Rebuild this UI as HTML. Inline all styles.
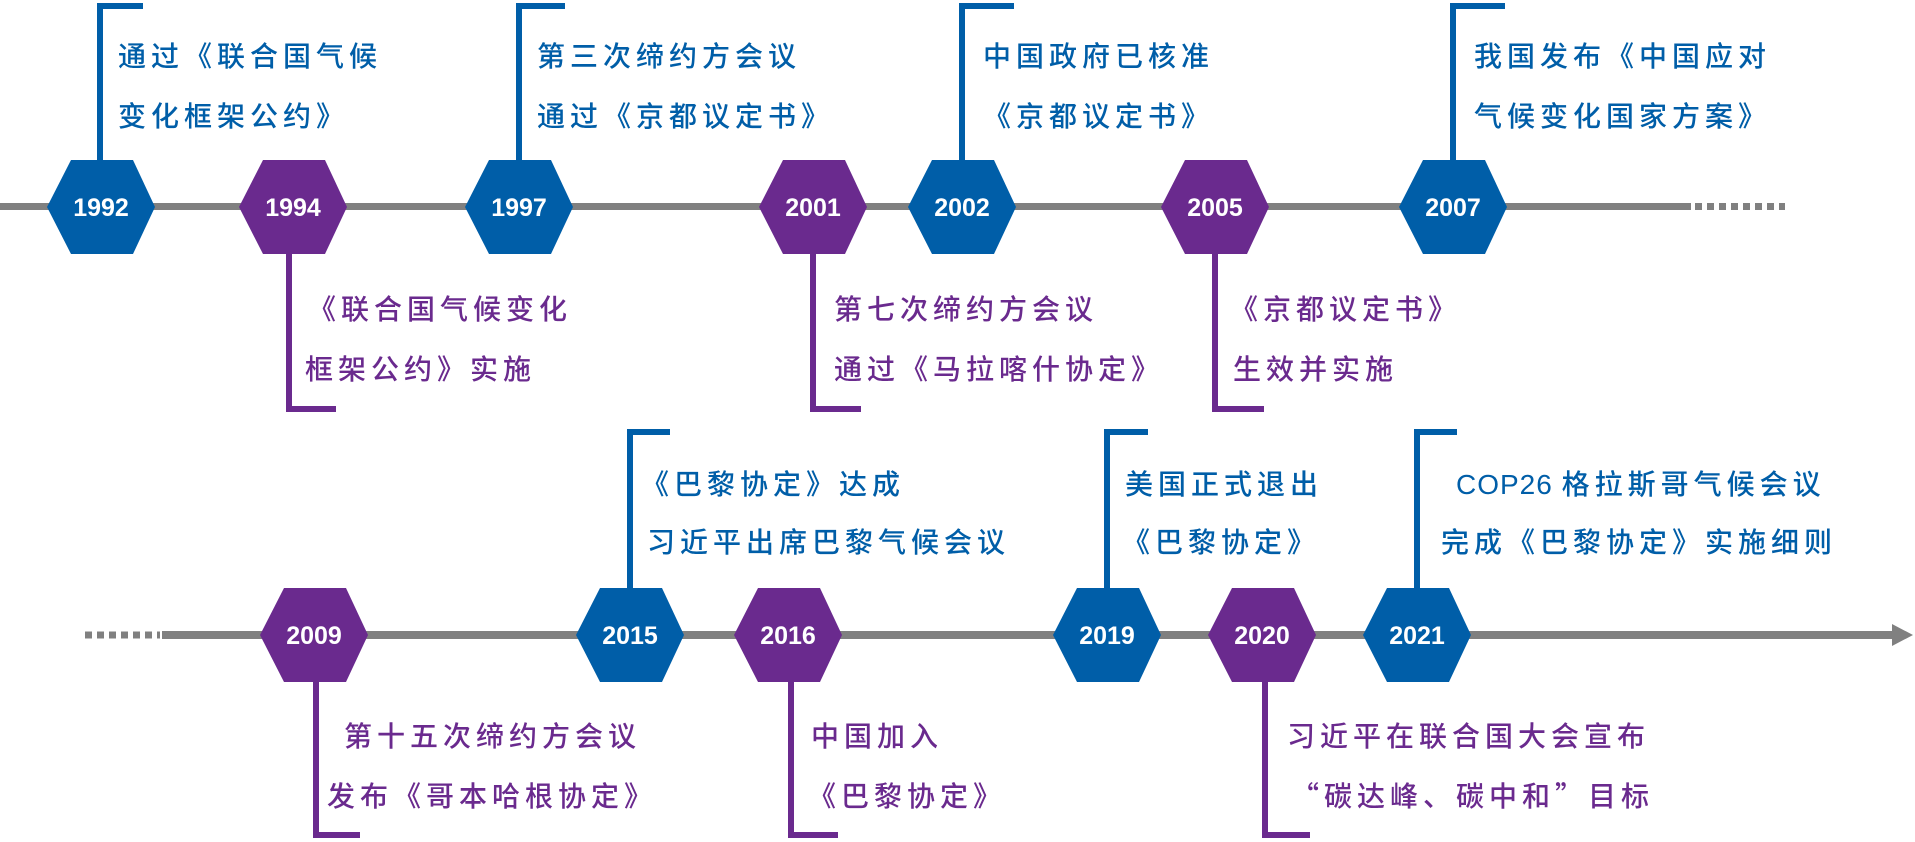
<!DOCTYPE html>
<html><head><meta charset="utf-8"><style>
html,body{margin:0;padding:0;background:#fff;}
svg{display:block;}
.t{font-family:"Liberation Sans","Noto Sans CJK SC",sans-serif;font-size:28px;letter-spacing:5px;font-weight:500;}
.b{fill:#005EA8;}
.p{fill:#6A2A8E;}
.y{font-family:"Liberation Sans",sans-serif;font-weight:bold;font-size:25px;fill:#fff;text-anchor:middle;}
.q{font-family:"Noto Sans CJK SC",sans-serif;}
</style></head><body>
<svg width="1915" height="842" viewBox="0 0 1915 842" xmlns="http://www.w3.org/2000/svg">
<defs>
<polygon id="hx" points="-54,0 -30,-47 32,-47 54,0 32,47 -30,47"/>
</defs>
<rect x="0" y="203" width="1691" height="7" fill="#808080"/>
<line x1="1695" y1="206.5" x2="1785" y2="206.5" stroke="#808080" stroke-width="7" stroke-dasharray="7,5"/>
<line x1="85" y1="635" x2="160" y2="635" stroke="#808080" stroke-width="7" stroke-dasharray="7,5"/>
<rect x="162" y="631" width="1732" height="8" fill="#808080"/>
<polygon points="1892,624 1913,635 1892,646" fill="#808080"/>

<g fill="none" stroke="#005EA8" stroke-width="6">
<polyline points="143,6 100,6 100,165"/>
<polyline points="565,6 519,6 519,165"/>
<polyline points="1014,6 962,6 962,165"/>
<polyline points="1505,6 1453,6 1453,165"/>
<polyline points="670,432 630,432 630,592"/>
<polyline points="1148,432 1107,432 1107,592"/>
<polyline points="1457,432 1417,432 1417,592"/>
</g>
<g fill="none" stroke="#6A2A8E" stroke-width="6">
<polyline points="289,250 289,409 336,409"/>
<polyline points="813,250 813,409 861,409"/>
<polyline points="1215,250 1215,409 1264,409"/>
<polyline points="316,678 316,835 360,835"/>
<polyline points="791,678 791,835 838,835"/>
<polyline points="1265,678 1265,835 1310,835"/>
</g>

<g transform="translate(101,207)"><use href="#hx" fill="#005EA8"/><text class="y" y="9">1992</text></g>
<g transform="translate(293,207)"><use href="#hx" fill="#6A2A8E"/><text class="y" y="9">1994</text></g>
<g transform="translate(519,207)"><use href="#hx" fill="#005EA8"/><text class="y" y="9">1997</text></g>
<g transform="translate(813,207)"><use href="#hx" fill="#6A2A8E"/><text class="y" y="9">2001</text></g>
<g transform="translate(962,207)"><use href="#hx" fill="#005EA8"/><text class="y" y="9">2002</text></g>
<g transform="translate(1215,207)"><use href="#hx" fill="#6A2A8E"/><text class="y" y="9">2005</text></g>
<g transform="translate(1453,207)"><use href="#hx" fill="#005EA8"/><text class="y" y="9">2007</text></g>
<g transform="translate(314,635)"><use href="#hx" fill="#6A2A8E"/><text class="y" y="9">2009</text></g>
<g transform="translate(630,635)"><use href="#hx" fill="#005EA8"/><text class="y" y="9">2015</text></g>
<g transform="translate(788,635)"><use href="#hx" fill="#6A2A8E"/><text class="y" y="9">2016</text></g>
<g transform="translate(1107,635)"><use href="#hx" fill="#005EA8"/><text class="y" y="9">2019</text></g>
<g transform="translate(1262,635)"><use href="#hx" fill="#6A2A8E"/><text class="y" y="9">2020</text></g>
<g transform="translate(1417,635)"><use href="#hx" fill="#005EA8"/><text class="y" y="9">2021</text></g>

<g class="t">
<text class="b" x="118" y="66">通过《联合国气候</text>
<text class="b" x="118" y="126">变化框架公约》</text>
<text class="b" x="537" y="66">第三次缔约方会议</text>
<text class="b" x="537" y="126">通过《京都议定书》</text>
<text class="b" x="983" y="66">中国政府已核准</text>
<text class="b" x="983" y="126">《京都议定书》</text>
<text class="b" x="1474" y="66">我国发布《中国应对</text>
<text class="b" x="1474" y="126">气候变化国家方案》</text>

<text class="p" x="308" y="319">《联合国气候变化</text>
<text class="p" x="305" y="379">框架公约》实施</text>
<text class="p" x="834" y="319">第七次缔约方会议</text>
<text class="p" x="834" y="379">通过《马拉喀什协定》</text>
<text class="p" x="1230" y="319">《京都议定书》</text>
<text class="p" x="1233" y="379">生效并实施</text>

<text class="b" x="641" y="494">《巴黎协定》达成</text>
<text class="b" x="647" y="552">习近平出席巴黎气候会议</text>
<text class="b" x="1125" y="494">美国正式退出</text>
<text class="b" x="1122" y="552">《巴黎协定》</text>
<text class="b" x="1456" y="494"><tspan style="letter-spacing:1px">COP26 </tspan>格拉斯哥气候会议</text>
<text class="b" x="1441" y="552">完成《巴黎协定》实施细则</text>

<text class="p" x="344" y="746">第十五次缔约方会议</text>
<text class="p" x="327" y="806">发布《哥本哈根协定》</text>
<text class="p" x="811" y="746">中国加入</text>
<text class="p" x="808" y="806">《巴黎协定》</text>
<text class="p" x="1287" y="746">习近平在联合国大会宣布</text>
<text class="p q" x="1291" y="806">“碳达峰、碳中和”目标</text>
</g>
</svg>
</body></html>
